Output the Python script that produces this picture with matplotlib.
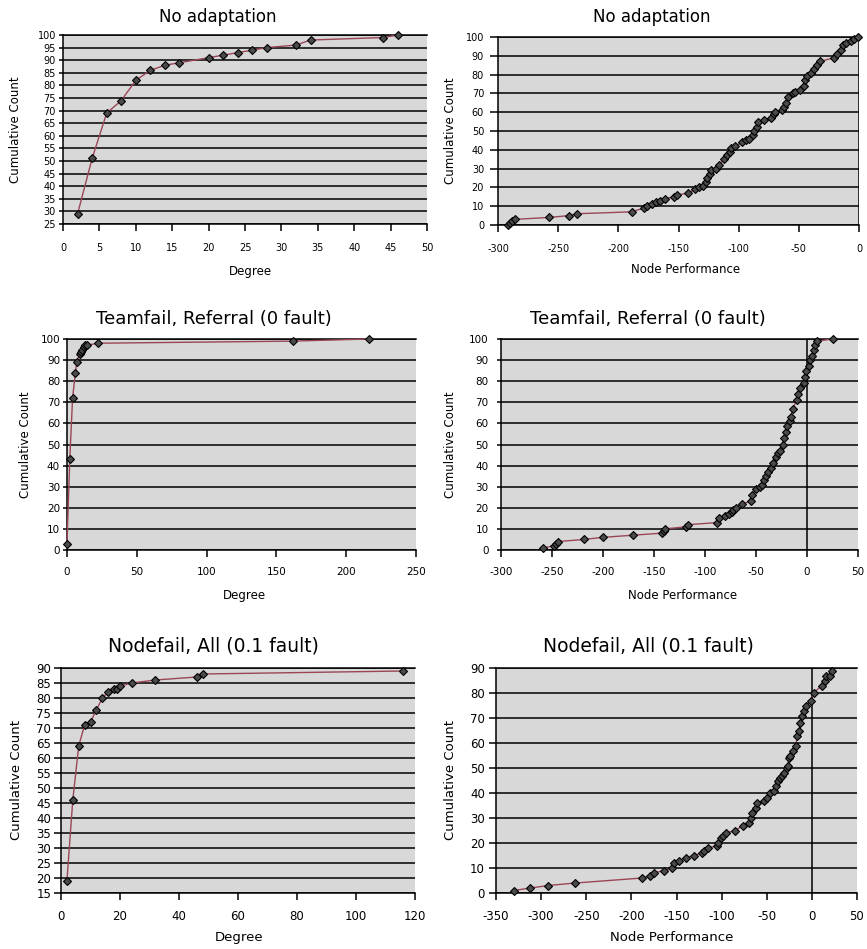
import matplotlib
matplotlib.use('Agg')
import matplotlib.pyplot as plt

# ---------------- data ----------------
titles = ["No adaptation", "No adaptation",
          "Teamfail, Referral (0 fault)", "Teamfail, Referral (0 fault)",
          "Nodefail, All (0.1 fault)", "Nodefail, All (0.1 fault)"]
xlabels = ["Degree", "Node Performance"] * 3
ylabel = "Cumulative Count"

deg_noadapt_x = [2, 4, 6, 8, 10, 12, 14, 16, 20, 22, 24, 26, 28, 32, 34, 44, 46]
deg_noadapt_y = [29, 51, 69, 74, 82, 86, 88, 89, 91, 92, 93, 94, 95, 96, 98, 99, 100]

perf_noadapt_x = [-292, -290, -288, -286, -258, -241, -234, -189, -179, -176, -172, -169,
                  -165, -161, -154, -151, -142, -136, -133, -130, -127, -126, -124, -123,
                  -119, -116, -112, -110, -107, -106, -103, -97, -94, -91, -88, -87, -85,
                  -84, -79, -73, -71, -70, -64, -62, -61, -59, -55, -53, -49, -46, -45,
                  -43, -40, -37, -35, -32, -21, -18, -15, -13, -11, -7, -4, -1]
perf_noadapt_y = [0, 1, 2, 3, 4, 5, 6, 7, 9, 10, 11, 12,
                  13, 14, 15, 16, 17, 19, 20, 21, 23, 25, 27, 29,
                  30, 32, 35, 37, 39, 41, 42, 44, 45, 46, 48, 50, 52,
                  55, 56, 57, 59, 60, 61, 63, 65, 68, 70, 71, 72, 74, 77,
                  79, 81, 83, 85, 87, 89, 91, 93, 96, 97, 98, 99, 100]

deg_team_x = [0, 2, 4, 6, 7, 9, 10, 11, 12, 13, 14, 22, 162, 216]
deg_team_y = [3, 43, 72, 84, 89, 93, 94, 95, 96, 97, 97, 98, 99, 100]

perf_team_x = [-259, -248, -246, -244, -219, -200, -171, -142, -140, -139, -119, -117,
               -88, -86, -80, -76, -74, -73, -70, -64, -55, -54, -50, -46, -44, -42,
               -40, -38, -35, -33, -30, -28, -26, -24, -23, -21, -20, -17, -16, -14,
               -10, -9, -7, -3, -2, -1, 2, 3, 5, 7, 8, 10, 25]
perf_team_y = [1, 2, 3, 4, 5, 6, 7, 8, 9, 10, 11, 12,
               13, 15, 16, 17, 18, 19, 20, 22, 23, 26, 29, 30, 31, 33,
               35, 37, 39, 41, 44, 46, 47, 50, 53, 56, 59, 61, 63, 67,
               71, 74, 77, 79, 82, 85, 87, 90, 92, 95, 97, 99, 100]

deg_node_x = [2, 4, 6, 8, 10, 12, 14, 16, 18, 19, 20, 24, 32, 46, 48, 116]
deg_node_y = [19, 46, 64, 71, 72, 76, 80, 82, 83, 83, 84, 85, 86, 87, 88, 89]

perf_node_x = [-330, -312, -292, -262, -188, -179, -175, -164, -155, -153, -147, -140,
               -131, -122, -119, -115, -105, -104, -101, -98, -95, -85, -76, -70, -67,
               -66, -62, -61, -53, -50, -46, -42, -40, -38, -35, -33, -31, -28, -27,
               -25, -24, -21, -18, -16, -14, -13, -11, -9, -6, -1, 2, 11, 14, 16, 20, 22]
perf_node_y = [1, 2, 3, 4, 6, 7, 8, 9, 10, 12, 13, 14,
               15, 16, 17, 18, 19, 20, 22, 23, 24, 25, 27, 28, 30,
               32, 34, 36, 37, 38, 40, 41, 43, 45, 46, 47, 48, 50, 51,
               54, 55, 57, 59, 63, 65, 68, 71, 73, 75, 77, 80, 83, 85, 87, 87, 89]

series = [(deg_noadapt_x, deg_noadapt_y), (perf_noadapt_x, perf_noadapt_y),
          (deg_team_x, deg_team_y), (perf_team_x, perf_team_y),
          (deg_node_x, deg_node_y), (perf_node_x, perf_node_y)]

xlims = [(0, 50, 5), (-300, 0, 50), (0, 250, 50), (-300, 50, 50), (0, 120, 20), (-350, 50, 50)]
ylims = [(25, 100, 5), (0, 100, 10), (0, 100, 10), (0, 100, 10), (15, 90, 5), (0, 90, 10)]

# ---------------- layout ----------------
W, H = 867, 949
plt.rcParams['font.family'] = ['DejaVu Sans']
plt.rcParams['axes.unicode_minus'] = False
fig = plt.figure(figsize=(W / 100, H / 100), dpi=100)

boxes = [(63, 427, 35, 224), (498, 859, 37, 225),
         (67, 416, 339, 550), (501, 858, 339, 550),
         (61, 415, 668, 893), (496, 857, 668, 893)]
title_fs = [12, 12, 13, 13, 13.5, 13.5]
title_pad = [9, 11, 11, 11, 12, 12]
title_x = [0.426, 0.427, 0.421, 0.412, 0.432, 0.421]
tick_fs = [7, 7, 7.5, 7.5, 8.5, 8.5]
label_fs = [8.5, 8.5, 8.5, 8.5, 9.5, 9.5]
xlabel_x = [0.514, 0.519, 0.509, 0.508, 0.503, 0.488]
xlabel_y = [-0.217, -0.202, -0.185, -0.185, -0.169, -0.169]
ylabel_x = [-0.113, -0.114, -0.100, -0.123, -0.107, -0.108]
xpad = [9, 9, 7, 7, 7, 7]
ylen = [3, 6, 3, 3, 5, 5]
ypad = [2, 4, 2, 6, 2, 3]

bg = '#d8d8d8'
line_c = '#9a4656'

for i in range(6):
    l, r, t, b = boxes[i]
    ax = fig.add_axes([l / W, 1 - b / H, (r - l) / W, (b - t) / H])
    ax.set_facecolor(bg)
    x0, x1, xs = xlims[i]
    y0, y1, ys = ylims[i]
    ax.set_xlim(x0, x1)
    ax.set_ylim(y0, y1)
    ax.set_xticks(list(range(x0, x1 + 1, xs)))
    ax.set_yticks(list(range(y0, y1 + 1, ys)))
    ax.set_axisbelow(True)
    ax.grid(axis='y', color='black', lw=1.1)
    for s in ['left', 'bottom', 'top']:
        ax.spines[s].set_color('black')
        ax.spines[s].set_linewidth(1.1)
    ax.spines['right'].set_visible(False)
    if i % 2 == 1:
        ax.axvline(0, color='black', lw=1.1, zorder=1.5)
    ax.tick_params(axis='x', direction='out', length=5, width=1.1,
                   labelsize=tick_fs[i], pad=xpad[i], colors='black')
    ax.tick_params(axis='y', direction='out', length=ylen[i], width=1.1,
                   labelsize=tick_fs[i], pad=ypad[i], colors='black')
    xs_, ys_ = series[i]
    ax.plot(xs_, ys_, color=line_c, lw=1.0, zorder=3, clip_on=False)
    ax.plot(xs_, ys_, ls='none', marker='D', ms=4.2, mfc='#4a4a4a',
            mec='black', mew=0.8, zorder=4, clip_on=False)
    ax.set_title(titles[i], fontsize=title_fs[i], pad=title_pad[i], x=title_x[i])
    ax.set_xlabel(xlabels[i], fontsize=label_fs[i])
    ax.set_ylabel(ylabel, fontsize=label_fs[i])
    ax.xaxis.set_label_coords(xlabel_x[i], xlabel_y[i])
    ax.yaxis.set_label_coords(ylabel_x[i], 0.5)

fig.savefig('out.png', dpi=100, facecolor='white')
